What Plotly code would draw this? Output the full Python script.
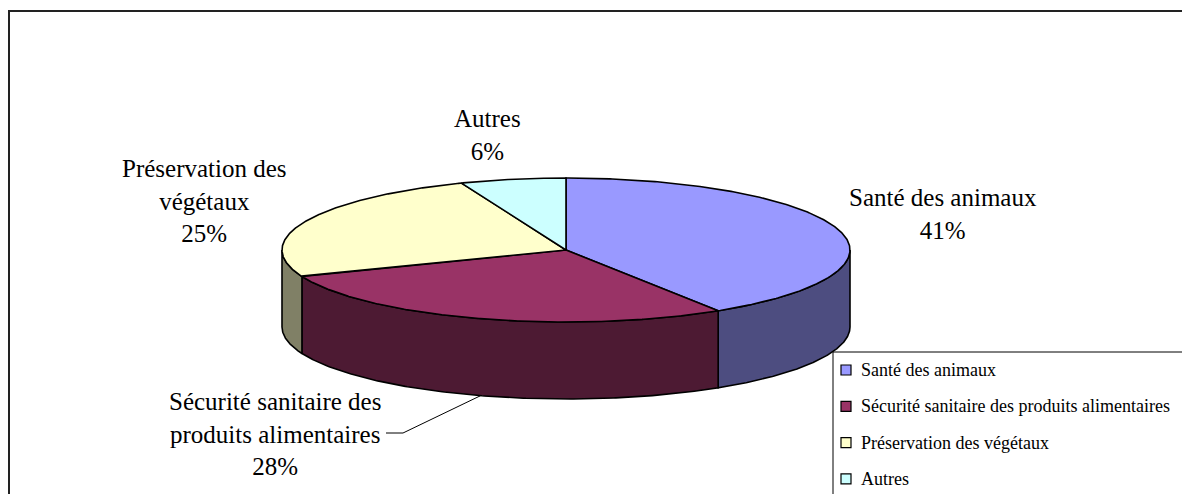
import numpy as np
import plotly.graph_objects as go

# ---------------- data ----------------
categories = ["Santé des animaux",
              "Sécurité sanitaire des produits alimentaires",
              "Préservation des végétaux",
              "Autres"]
label_lines = ["Santé des animaux",
               "Sécurité sanitaire des<br>produits alimentaires",
               "Préservation des<br>végétaux",
               "Autres"]
values = [41, 28, 25, 6]

# ---------------- styles / geometry ----------------
top_colors = ["#9999FF", "#993366", "#FFFFCC", "#CCFFFF"]
side_colors = ["#4D4D80", "#4D1A33", "#808066", "#668080"]
FONT = "Liberation Serif"
W, H = 1182, 494
CX, CY, RX, RY, DEPTH = 566, 250, 284, 72, 77
# label block centres (x, y of the middle of the block)
label_pos = [(943, 214), (275, 434), (204, 201), (487, 135)]
LEADER_START = [(386, 433), (403, 433)]
LEADER_ANGLE = 197.5
# legend layout
LEG_X, LEG_Y, LEG_ROW0, LEG_STEP = 833, 352, 370, 36.3
EDGE_W = 1.6


def rim(theta_deg, drop=0.0):
    t = np.radians(theta_deg)
    return CX + RX * np.sin(t), CY - RY * np.cos(t) + drop


total = float(sum(values))
bounds = np.concatenate([[0.0], np.cumsum(values) / total * 360.0])

fig = go.Figure()

# side walls (only the front half, angles 90..270 clockwise from top)
for i, v in enumerate(values):
    a1, a2 = max(bounds[i], 90.0), min(bounds[i + 1], 270.0)
    if a2 <= a1:
        continue
    th = np.linspace(a1, a2, 200)
    xt, yt = rim(th)
    xb, yb = rim(th[::-1], DEPTH)
    xs = np.concatenate([xt, xb, xt[:1]])
    ys = np.concatenate([yt, yb, yt[:1]])
    fig.add_trace(go.Scatter(x=xs, y=ys, mode="lines", fill="toself",
                             fillcolor=side_colors[i],
                             line=dict(color="black", width=EDGE_W),
                             hoverinfo="skip", showlegend=False))

# top faces
for i, v in enumerate(values):
    th = np.linspace(bounds[i], bounds[i + 1], 300)
    xa, ya = rim(th)
    xs = np.concatenate([[CX], xa, [CX]])
    ys = np.concatenate([[CY], ya, [CY]])
    fig.add_trace(go.Scatter(x=xs, y=ys, mode="lines", fill="toself",
                             fillcolor=top_colors[i],
                             line=dict(color="black", width=EDGE_W),
                             hoverinfo="skip", showlegend=False))

# leader line for the second label
ex, ey = rim(LEADER_ANGLE, DEPTH)
fig.add_trace(go.Scatter(x=[LEADER_START[0][0], LEADER_START[1][0], ex],
                         y=[LEADER_START[0][1], LEADER_START[1][1], ey],
                         mode="lines", line=dict(color="black", width=1),
                         hoverinfo="skip", showlegend=False))

# data labels
for i, v in enumerate(values):
    x, y = label_pos[i]
    fig.add_annotation(x=x, y=y, xref="x", yref="y",
                       text=f"{label_lines[i]}<br>{v}%", showarrow=False,
                       xanchor="center", yanchor="middle", align="center",
                       font=dict(family=FONT, size=25, color="black"))

shapes = [
    # outer chart frame
    dict(type="rect", xref="x", yref="y", x0=9, y0=11, x1=W + 20, y1=H + 20,
         line=dict(color="#222222", width=2), fillcolor="rgba(0,0,0,0)",
         layer="below"),
    # legend box
    dict(type="rect", xref="x", yref="y", x0=LEG_X, y0=LEG_Y, x1=W + 20,
         y1=H + 20, line=dict(color="black", width=1), fillcolor="white",
         layer="above"),
]
for i, name in enumerate(categories):
    yc = LEG_ROW0 + i * LEG_STEP
    shapes.append(dict(type="rect", xref="x", yref="y", x0=LEG_X + 8,
                       x1=LEG_X + 18, y0=yc - 5, y1=yc + 5,
                       fillcolor=top_colors[i],
                       line=dict(color="black", width=1.2), layer="above"))
    fig.add_annotation(x=LEG_X + 26, y=yc, xref="x", yref="y", text=name,
                       showarrow=False, xanchor="left", yanchor="middle",
                       font=dict(family=FONT, size=18, color="black"))

fig.update_layout(
    width=W, height=H, margin=dict(l=0, r=0, t=0, b=0),
    paper_bgcolor="white", plot_bgcolor="white", showlegend=False,
    shapes=shapes,
    xaxis=dict(range=[0, W], visible=False, fixedrange=True),
    yaxis=dict(range=[H, 0], visible=False, fixedrange=True),
)

fig.write_html(
    "out.html",
    config={"displayModeBar": False},
    post_script="document.body.style.margin='0';"
                "document.documentElement.style.overflow='hidden';",
)
